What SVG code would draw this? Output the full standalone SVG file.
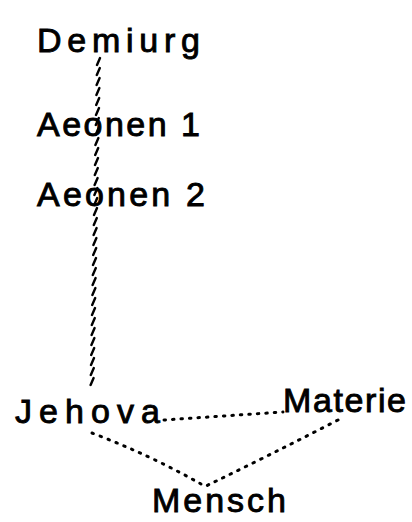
<svg xmlns="http://www.w3.org/2000/svg" width="412" height="522" viewBox="0 0 412 522">
<style>
.t{font-family:"Liberation Sans","DejaVu Sans",sans-serif;font-size:34px;fill:#000;stroke:#000;stroke-width:0.9}
.hatch{fill:none;stroke:#000;stroke-width:2.4;stroke-linecap:round}
.dots{fill:none;stroke:#000;stroke-width:3;stroke-linecap:round;stroke-dasharray:1.5 7}
</style>
<rect width="412" height="522" fill="#fff"/>
<g id="connectors">
<path class="hatch" d="M100 58l-3 7m2.8 3l-3 7m2.8 3l-3 7m2.8 3l-3 7m2.8 3l-3 7m2.8 3l-3 7m2.8 3l-3 7m2.8 3l-3 7m2.8 3l-3 7m2.8 3l-3 7m2.8 3l-3 7m2.8 3l-3 7m2.8 3l-3 7m2.8 3l-3 7m2.8 3l-3 7m2.8 3l-3 7m2.8 3l-3 7m2.8 3l-3 7m2.8 3l-3 7m2.8 3l-3 7m2.8 3l-3 7m2.8 3l-3 7m2.8 3l-3 7m2.8 3l-3 7m2.8 3l-3 7m2.8 3l-3 7m2.8 3l-3 7m2.8 3l-3 7m2.8 3l-3 7m2.8 3l-3 7m2.8 3l-3 7m2.8 3l-3 7m2.8 3l-3 7"/>
<path class="dots" d="M164 420L283 412"/>
<path class="dots" d="M92 433Q150 455 201 484"/>
<path class="dots" d="M338 420Q270 455 206 486"/>
</g>
<g id="demiurg"><text class="t" x="37" y="52" textLength="163" lengthAdjust="spacing">Demiurg</text></g>
<g id="aeonen1"><text class="t" x="37" y="136" textLength="163" lengthAdjust="spacing">Aeonen 1</text></g>
<g id="aeonen2"><text class="t" x="37" y="206" textLength="168" lengthAdjust="spacing">Aeonen 2</text></g>
<g id="jehova"><text class="t" x="15" y="423" textLength="145" lengthAdjust="spacing">Jehova</text></g>
<g id="materie"><text class="t" x="283" y="412" textLength="123" lengthAdjust="spacing">Materie</text></g>
<g id="mensch"><text class="t" x="152" y="512" textLength="134" lengthAdjust="spacing">Mensch</text></g>
</svg>
